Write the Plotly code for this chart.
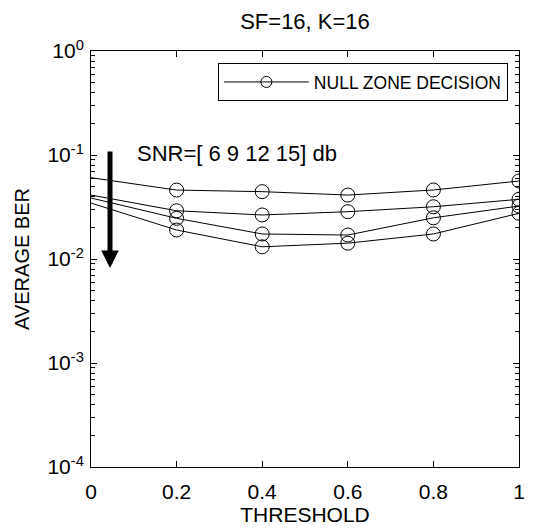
import plotly.graph_objects as go

threshold = [0, 0.2, 0.4, 0.6, 0.8, 1.0]
ber_snr6 = [0.0605, 0.046, 0.0444, 0.0412, 0.0461, 0.0562]
ber_snr9 = [0.0412, 0.0291, 0.0265, 0.0285, 0.0318, 0.0375]
ber_snr12 = [0.0386, 0.0246, 0.0174, 0.0170, 0.0249, 0.0323]
ber_snr15 = [0.0345, 0.0190, 0.0131, 0.0142, 0.0174, 0.0275]
series = [ber_snr6, ber_snr9, ber_snr12, ber_snr15]

x_ticks = [0, 0.2, 0.4, 0.6, 0.8, 1]
x_tick_labels = ["0", "0.2", "0.4", "0.6", "0.8", "1"]
y_ticks = [1e-4, 1e-3, 1e-2, 1e-1, 1e0]
y_tick_labels = ["10<sup>-4</sup>", "10<sup>-3</sup>", "10<sup>-2</sup>", "10<sup>-1</sup>", "10<sup>0</sup>"]

FONT = "Liberation Sans, Arial, sans-serif"

fig = go.Figure()
for s in series:
    fig.add_trace(go.Scatter(x=threshold, y=s, mode="lines",
                             line=dict(color="black", width=1), showlegend=False,
                             hoverinfo="skip"))
    fig.add_trace(go.Scatter(x=threshold[1:], y=s[1:], mode="markers",
                             marker=dict(symbol="circle-open", size=14, color="black",
                                         line=dict(width=1, color="black")),
                             showlegend=False))
# legend entry
fig.add_trace(go.Scatter(x=[None], y=[None], mode="lines+markers", name="NULL ZONE DECISION",
                         line=dict(color="black", width=1),
                         marker=dict(symbol="circle-open", size=11, color="black",
                                     line=dict(width=1, color="black"))))

# arrow
fig.add_annotation(x=0.0444, y=-2.087, ax=0.0444, ay=-0.952, xref="x", yref="y",
                   axref="x", ayref="y", text="", showarrow=True,
                   arrowhead=2, arrowsize=0.7, arrowwidth=5, arrowcolor="black")
fig.add_annotation(x=0.103, y=-0.986, xref="x", yref="y", text="SNR=[ 6 9 12 15] db",
                   showarrow=False, xanchor="left", yanchor="middle",
                   font=dict(size=22, color="black", family=FONT))

fig.update_layout(
    width=533, height=528,
    margin=dict(l=91, r=14, t=51, b=61, autoexpand=False),
    paper_bgcolor="white", plot_bgcolor="white",
    font=dict(family=FONT, size=21, color="black"),
    title=dict(text="SF=16, K=16", x=0.5, xref="paper", y=1 - 21 / 528,
               yref="container", xanchor="center", yanchor="middle",
               font=dict(size=22, color="black", family=FONT)),
    showlegend=True,
    legend=dict(x=0.974, y=0.971, xanchor="right", yanchor="top",
                bordercolor="black", borderwidth=1, bgcolor="white",
                itemwidth=85,
                font=dict(size=17.5, color="black", family=FONT)),
    xaxis=dict(range=[0, 1], tickvals=x_ticks, ticktext=x_tick_labels,
               tickfont=dict(size=21, color="black", family=FONT),
               ticks="inside", ticklen=6, tickcolor="black", showline=True,
               linecolor="black", linewidth=1, mirror="ticks", showgrid=False,
               zeroline=False, automargin=False, ticklabelstandoff=6,
               title=dict(text="THRESHOLD", standoff=4,
                          font=dict(size=21, color="black", family=FONT))),
    yaxis=dict(type="log", range=[-4, 0], tickvals=y_ticks, ticktext=y_tick_labels,
               tickfont=dict(size=21, color="black", family=FONT),
               ticks="inside", ticklen=6, tickcolor="black", showline=True,
               linecolor="black", linewidth=1, mirror="ticks", showgrid=False,
               zeroline=False, automargin=False, ticklabelstandoff=2,
               title=dict(text="AVERAGE BER", standoff=12,
                          font=dict(size=20, color="black", family=FONT)),
               minor=dict(dtick="D1", ticks="inside", ticklen=4, tickcolor="black",
                          showgrid=False)),
)

fig.write_html("out.html", config={"displayModeBar": False},
               post_script="document.body.style.margin='0px';")
